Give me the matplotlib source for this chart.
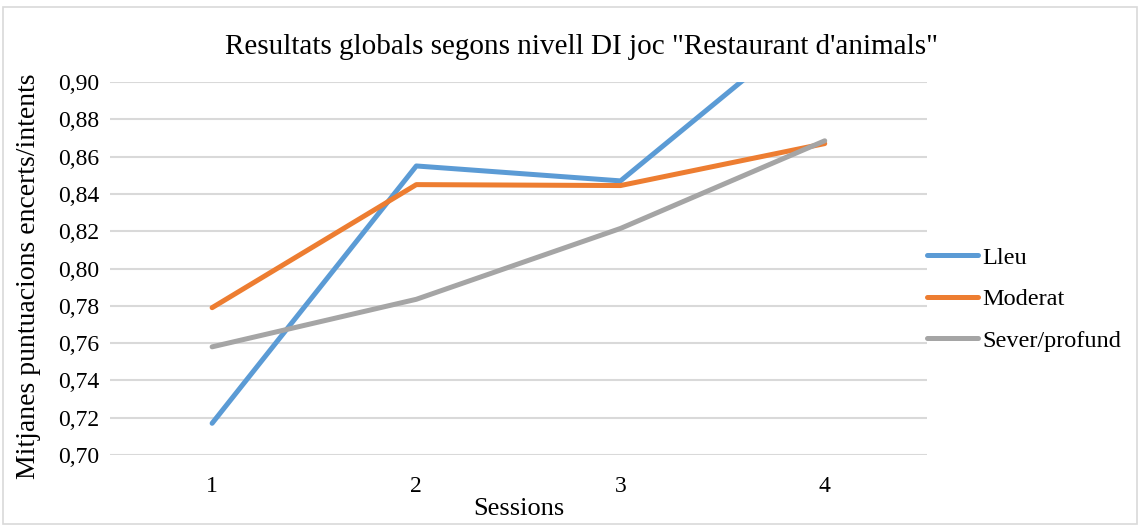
import matplotlib.pyplot as plt
from matplotlib.patches import Rectangle
from matplotlib.ticker import FuncFormatter

sessions = ['1', '2', '3', '4']
lleu = [0.717, 0.855, 0.847, 0.937]
moderat = [0.779, 0.845, 0.8445, 0.867]
sever = [0.758, 0.7835, 0.8215, 0.8685]
yticks = [0.70, 0.72, 0.74, 0.76, 0.78, 0.80, 0.82, 0.84, 0.86, 0.88, 0.90]

plt.rcParams['font.family'] = ['Liberation Serif', 'DejaVu Serif']

fig = plt.figure(figsize=(11.4, 5.26), dpi=100)
ax = fig.add_axes([0.0965, 0.135, 0.7165, 0.709])

x = range(len(sessions))
ax.plot(x, lleu, color='#5B9BD5', lw=3.6, label='Lleu', solid_capstyle='round')
ax.plot(x, moderat, color='#ED7D31', lw=3.6, label='Moderat', solid_capstyle='round')
ax.plot(x, sever, color='#A5A5A5', lw=3.6, label='Sever/profund', solid_capstyle='round')

ax.set_xlim(-0.5, 3.5)
ax.set_ylim(0.70, 0.90)
ax.set_xticks(list(x))
ax.set_xticklabels(sessions)
ax.set_yticks(yticks)
ax.yaxis.set_major_formatter(FuncFormatter(lambda v, p: f'{v:.2f}'.replace('.', ',')))
ax.tick_params(length=0, labelsize=17, pad=8)
ax.tick_params(axis='x', pad=15)
ax.grid(axis='y', color='#D9D9D9', lw=1.5)
ax.set_axisbelow(True)
for s in ax.spines.values():
    s.set_visible(False)

fig.text(0.51, 0.91, 'Resultats globals segons nivell DI joc "Restaurant d\'animals"',
         fontsize=21, ha='center', va='center')
ax.set_xlabel('Sessions', fontsize=19, labelpad=1)
ax.set_ylabel('Mitjanes puntuacions encerts/intents', fontsize=20)
ax.yaxis.set_label_coords(-0.084, 0.48)

ax.legend(loc='center left', bbox_to_anchor=(1.0, 0.418), frameon=False,
          fontsize=17.5, handlelength=2.1, handletextpad=0.2, labelspacing=0.8,
          borderpad=0, borderaxespad=0)

fig.patches.append(Rectangle((0.003, 0.004), 0.994, 0.982, transform=fig.transFigure,
                             fill=False, edgecolor='#D9D9D9', lw=1.2))

fig.savefig('out.png', dpi=100)
